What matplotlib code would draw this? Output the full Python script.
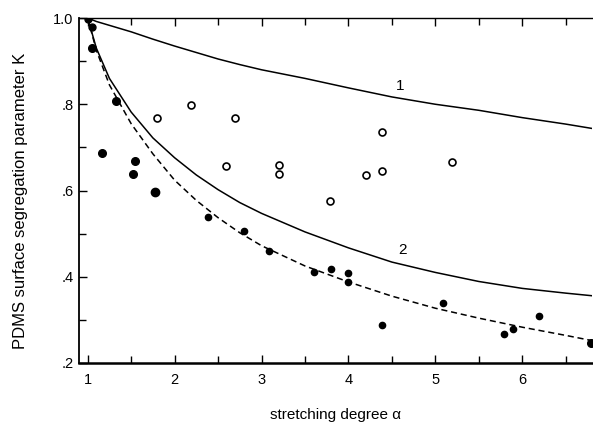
import matplotlib
matplotlib.use("Agg")
from matplotlib import pyplot as plt
from matplotlib.ticker import FixedLocator

plt.rcParams['font.family'] = ['Liberation Sans', 'DejaVu Sans']

# theory curves, values
curve_a = [1.0, 1.1, 1.25, 1.5, 1.75, 2.0, 2.25, 2.5, 2.75, 3.0, 3.5, 4.0, 4.5, 5.0, 5.5, 6.0, 6.5, 6.8]
curve1_k = [1.0, 0.992, 0.983, 0.968, 0.951, 0.935, 0.920, 0.905, 0.892, 0.880, 0.860, 0.838, 0.817, 0.800, 0.786, 0.769, 0.754, 0.744]
curve2_k = [1.0, 0.930, 0.860, 0.782, 0.722, 0.676, 0.636, 0.602, 0.572, 0.547, 0.504, 0.467, 0.434, 0.410, 0.389, 0.373, 0.362, 0.356]
dashed_k = [1.0, 0.925, 0.845, 0.755, 0.685, 0.624, 0.577, 0.537, 0.502, 0.472, 0.425, 0.388, 0.355, 0.327, 0.304, 0.283, 0.264, 0.252]

# filled circles
filled_a = [1.0, 1.05, 1.05, 1.16, 1.33, 1.54, 1.52, 1.78, 2.39, 2.80, 3.09, 3.60, 3.80, 4.00, 3.99, 4.39, 5.09, 5.79, 5.89, 6.19, 6.79]
filled_k = [0.998, 0.98, 0.93, 0.688, 0.808, 0.668, 0.638, 0.597, 0.539, 0.506, 0.459, 0.41, 0.418, 0.408, 0.387, 0.288, 0.338, 0.267, 0.278, 0.308, 0.247]
filled_size = [5, 5, 5.5, 5.5, 5.5, 5.5, 5.5, 6, 4.5, 4.5, 4.5, 4.5, 4.5, 4.5, 4.5, 4.5, 4.5, 4.5, 4.5, 4.5, 5.5]

# open circles
open_a = [1.80, 2.19, 2.70, 2.59, 3.20, 3.20, 4.39, 4.20, 4.39, 5.19, 3.79]
open_k = [0.767, 0.798, 0.767, 0.657, 0.658, 0.638, 0.736, 0.636, 0.646, 0.666, 0.575]

fig = plt.figure(figsize=(5.93, 4.24), dpi=100)
ax = fig.add_axes([0.1332, 0.1439, 0.8648, 0.8136])

ax.plot(curve_a, curve1_k, color="black", lw=1.1)
ax.plot(curve_a, curve2_k, color="black", lw=1.1)
ax.plot(curve_a, dashed_k, color="black", lw=1.1, dashes=(4, 2.5))

for a, k, s in zip(filled_a, filled_k, filled_size):
    ax.plot(a, k, "o", color="black", markersize=s)
ax.plot(open_a, open_k, "o", markerfacecolor="white", markeredgecolor="black",
        markersize=5, markeredgewidth=1.2, linestyle="none")

ax.text(4.6, 0.842, "1", fontsize=11, ha="center", va="center")
ax.text(4.62, 0.462, "2", fontsize=11, ha="center", va="center")

ax.set_xlim(0.9, 6.8)
ax.set_ylim(0.2, 1.0)

ax.xaxis.set_major_locator(FixedLocator([1, 2, 3, 4, 5, 6]))
ax.xaxis.set_minor_locator(FixedLocator([1.5, 2.5, 3.5, 4.5, 5.5, 6.5]))
ax.yaxis.set_major_locator(FixedLocator([0.2, 0.4, 0.6, 0.8, 1.0]))
ax.yaxis.set_minor_locator(FixedLocator([0.3, 0.5, 0.7, 0.9]))
ax.set_yticklabels([".2", ".4", ".6", ".8", "1.0"])
ax.set_xticklabels(["1", "2", "3", "4", "5", "6"])

ax.tick_params(which="both", direction="in", top=True, right=False, labelsize=10.5)
ax.tick_params(axis="x", pad=7)
ax.tick_params(axis="y", pad=4)
ax.tick_params(which="major", length=6, width=1)
ax.tick_params(which="minor", length=5, width=1)

ax.spines["right"].set_visible(False)
ax.spines["bottom"].set_linewidth(1.8)
ax.spines["left"].set_linewidth(1.3)
ax.spines["top"].set_linewidth(1.0)

ax.set_xlabel("stretching degree α", fontsize=11, labelpad=15)
ax.set_ylabel("PDMS surface segregation parameter K", fontsize=12)
ax.yaxis.set_label_coords(-0.1, 0.47)

fig.savefig("out.png", dpi=100)
